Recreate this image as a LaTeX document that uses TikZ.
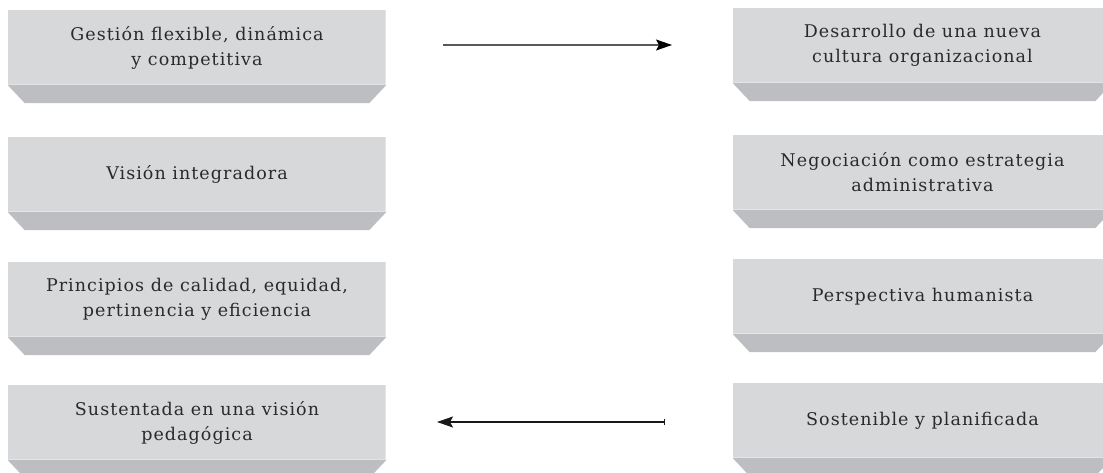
\documentclass[tikz,border=0pt]{standalone}
\usepackage{fontspec}
\setmainfont[LetterSpace=6]{DejaVu Serif}
\usetikzlibrary{arrows.meta,calc}
\definecolor{boxlight}{HTML}{D7D8DA}
\definecolor{boxdark}{HTML}{BDBEC1}
\definecolor{boxhi}{HTML}{E3E4E6}
\definecolor{txt}{HTML}{2A2A2A}
\begin{document}
\begin{tikzpicture}[x=1pt,y=-1pt,
  panel/.style={fill=boxlight, draw=none, minimum height=75pt, inner sep=0pt,
    align=center, text=txt, font=\fontsize{17.5}{25}\selectfont},
  lpanel/.style={panel, minimum width=378pt},
  rpanel/.style={panel, minimum width=379pt},
  bevel/.style={fill=boxdark, draw=none},
  hiline/.style={draw=boxhi, line width=1.2pt},
  conn/.style={line width=1.1pt}]
\useasboundingbox (0,0) rectangle (1103,473);
\clip (0,0) rectangle (1103,473);
% left column
\node[lpanel] (L1) at (197,47.5) {Gestión flexible, dinámica\\y competitiva};
\node[lpanel] (L2) at (197,174.5) {Visión integradora};
\node[lpanel] (L3) at (197,299.5) {Principios de calidad, equidad,\\pertinencia y eficiencia};
\node[lpanel] (L4) at (197,422.5) {Sustentada en una visión\\pedagógica};
% right column
\node[rpanel] (R1) at (922.5,45.5) {Desarrollo de una nueva\\cultura organizacional};
\node[rpanel] (R2) at (922.5,172.5) {Negociación como estrategia\\administrativa};
\node[rpanel] (R3) at (922.5,296.5) {Perspectiva humanista};
\node[rpanel] (R4) at (922.5,420.5) {Sostenible y planificada};
% bevels
\foreach \b in {L1,L2,L3,L4,R1,R2,R3,R4}{
  \fill[bevel] (\b.south west) -- (\b.south east) -- ++(-17,18) -- ($(\b.south west)+(17,18)$) -- cycle;
  \draw[hiline] ($(\b.south west)+(0,-0.6)$) -- ($(\b.south east)+(-0.6,-0.6)$) -- ($(\b.north east)+(-0.6,0)$);
}
% connectors
\coordinate (a1s) at (443,45);
\coordinate (a1e) at (672,45);
\coordinate (a2s) at (665,422);
\coordinate (a2e) at (437,422);
\draw[conn, draw=black!65, -{Stealth[length=16pt,width=11pt,inset=3pt,fill=black,color=black]}] (a1s) -- (a1e);
\draw[conn, draw=black!90, {Bar[width=6pt]}-{Stealth[length=16pt,width=11pt,inset=3pt]}] (a2s) -- (a2e);
\end{tikzpicture}
\end{document}
